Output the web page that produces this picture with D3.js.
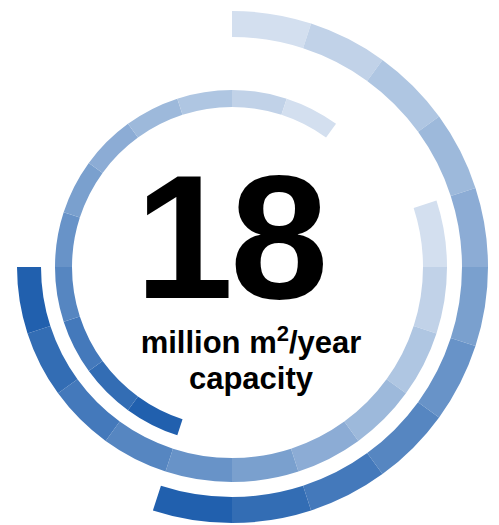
<!DOCTYPE html>
<html>
<head>
<meta charset="utf-8">
<script src="https://cdn.jsdelivr.net/npm/d3@7"></script>
<style>
  html, body { margin: 0; padding: 0; background: #ffffff; }
  svg { display: block; }
  text { font-family: "Liberation Sans", Arial, Helvetica, sans-serif; font-weight: bold; fill: #000; }
</style>
</head>
<body>
<div id="chart"></div>
<script>
// ---- data ----
const shades = ["#d3dfef", "#c1d2e8", "#afc6e2", "#9db9db", "#8cacd5", "#7aa0ce",
                "#6893c8", "#5686c1", "#4479bb", "#336db4", "#2160ae"];
const ringNames = ["outer", "middle", "inner"];
const ringStartDeg = [0, 72, 198];
const segmentDeg = 18;
const outerRing  = [0, 1, 2, 3, 4, 5, 6, 7, 8, 9, 10];
const middleRing = [0, 1, 2, 3, 4, 5, 6, 7, 8, 9, 10];
const innerRing  = [10, 9, 8, 7, 6, 5, 4, 3, 2, 1, 0];
const headline = ["1", "8"];
const subLine1 = ["million m", "2", "/year"];
const subLine2 = "capacity";

// ---- layout ----
const W = 499, H = 525;
const cx = 232, cy = 267;
const radii = { outer: [230, 256], middle: [191, 215], inner: [160, 177] };
const ringData = [outerRing, middleRing, innerRing];
const headlineX = [135, 230];

const svg = d3.select("#chart").append("svg").attr("width", W).attr("height", H);
const g = svg.append("g").attr("transform", `translate(${cx},${cy})`);

const angle = d3.scaleLinear().domain([0, 360]).range([0, 2 * Math.PI]);
const color = d3.scaleOrdinal().domain(d3.range(shades.length)).range(shades);

ringNames.forEach((name, ri) => {
  const segs = ringData[ri].map((s, i) => ({
    shade: s,
    a0: ringStartDeg[ri] + i * segmentDeg,
    a1: ringStartDeg[ri] + (i + 1) * segmentDeg
  }));
  const arc = d3.arc()
    .innerRadius(radii[name][0])
    .outerRadius(radii[name][1])
    .startAngle(d => angle(d.a0))
    .endAngle(d => angle(d.a1));
  g.append("g").attr("class", "ring-" + name)
    .selectAll("path").data(segs).join("path")
    .attr("d", arc)
    .attr("fill", d => color(d.shade));
});

// ---- text ----
const big = svg.append("text")
  .attr("y", 298)
  .style("font-size", "177px");
big.selectAll("tspan").data(headline).join("tspan")
  .attr("x", (d, i) => headlineX[i])
  .text(d => d);

const t1 = svg.append("text")
  .attr("x", 251).attr("y", 353)
  .attr("text-anchor", "middle")
  .style("font-size", "31px");
t1.append("tspan").text(subLine1[0]);
t1.append("tspan").attr("dy", -12).style("font-size", "22px").text(subLine1[1]);
t1.append("tspan").attr("dy", 12).text(subLine1[2]);

svg.append("text")
  .attr("x", 251).attr("y", 389)
  .attr("text-anchor", "middle")
  .style("font-size", "31px")
  .text(subLine2);
</script>
</body>
</html>
